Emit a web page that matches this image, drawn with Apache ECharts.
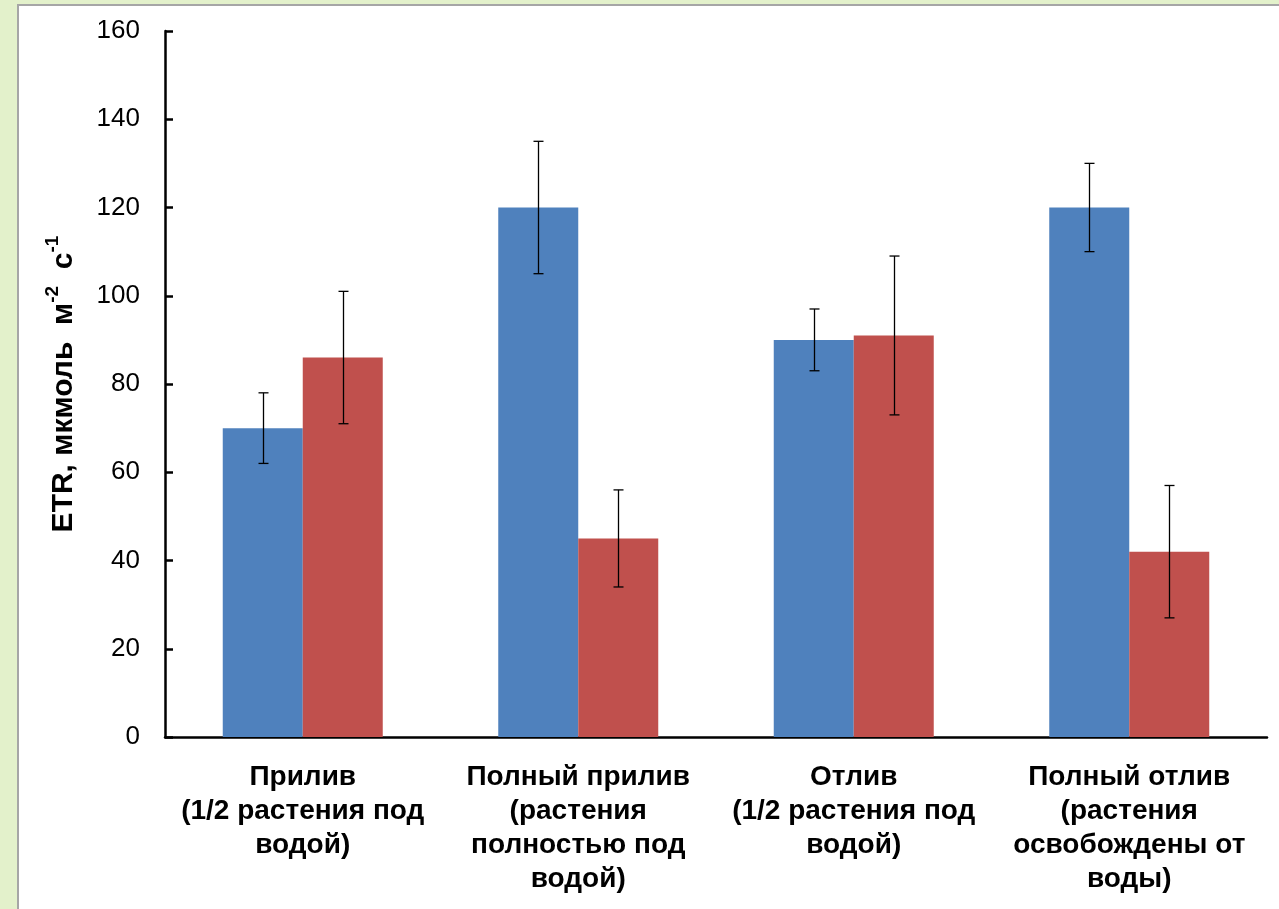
<!DOCTYPE html>
<html>
<head>
<meta charset="utf-8">
<script src="https://cdn.jsdelivr.net/npm/echarts@6/dist/echarts.min.js"></script>
<style>
  html, body { margin: 0; padding: 0; width: 1279px; height: 909px; overflow: hidden; background: #e3f1cb; }
  #frame { position: absolute; left: 17px; top: 4px; width: 1270px; height: 915px; background: #fff; border-left: 2px solid #a6a6a6; border-top: 2px solid #a6a6a6; }
  #chart { position: absolute; left: 0; top: 0; width: 1279px; height: 909px; }
</style>
</head>
<body>
<div id="frame"></div>
<div id="chart"></div>
<script>
// ─── данные ─────────────────────────────
const CATEGORIES = [
  "Прилив\n(1/2 растения под\nводой)",
  "Полный прилив\n(растения\nполностью под\nводой)",
  "Отлив\n(1/2 растения под\nводой)",
  "Полный отлив\n(растения\nосвобождены от\nводы)"
];
const BLUE_VALUES = [70, 120, 90, 120];
const BLUE_ERRORS = [8, 15, 7, 10];
const RED_VALUES = [86, 45, 91, 42];
const RED_ERRORS = [15, 11, 18, 15];
const Y_TICKS = { min: 0, max: 160, interval: 20 };

const BAR_W = 80;
const FONT = "'Liberation Sans', Arial, sans-serif";

// планки погрешностей (смещение -1 = левый столбец, +1 = правый)
const errorSeries = (values, errors, side) => ({
  type: "custom",
  z: 10,
  silent: true,
  data: values.map((v, i) => [i, v - errors[i], v + errors[i]]),
  renderItem: (params, api) => {
    const dx = side * BAR_W / 2;
    const lo = api.coord([api.value(0), api.value(1)]);
    const hi = api.coord([api.value(0), api.value(2)]);
    const x = Math.round(lo[0] + dx) + 0.5;
    const cap = 5;
    const style = { stroke: "#000", lineWidth: 1.3 };
    return {
      type: "group",
      children: [
        { type: "line", shape: { x1: x, y1: hi[1], x2: x, y2: lo[1] }, style },
        { type: "line", shape: { x1: x - cap, y1: hi[1], x2: x + cap, y2: hi[1] }, style },
        { type: "line", shape: { x1: x - cap, y1: lo[1], x2: x + cap, y2: lo[1] }, style }
      ]
    };
  }
});

const chart = echarts.init(document.getElementById("chart"));
chart.setOption({
  animation: false,
  backgroundColor: "transparent",
  grid: { left: 165, right: 12, top: 31, bottom: 172 },
  xAxis: {
    type: "category",
    data: CATEGORIES,
    axisLine: { lineStyle: { color: "#000", width: 2.5 } },
    axisTick: { inside: true, length: 6, lineStyle: { color: "#000", width: 2.5 } },
    axisLabel: {
      interval: 0,
      margin: 23,
      color: "#000",
      fontFamily: FONT,
      fontSize: 28,
      fontWeight: "bold",
      lineHeight: 34,
      align: "center"
    }
  },
  yAxis: {
    type: "value",
    min: Y_TICKS.min,
    max: Y_TICKS.max,
    interval: Y_TICKS.interval,
    splitLine: { show: false },
    axisLine: { show: true, lineStyle: { color: "#000", width: 2.5 } },
    axisTick: { show: true, inside: true, length: 8, lineStyle: { color: "#000", width: 2.5 } },
    axisLabel: { margin: 25, color: "#000", fontFamily: FONT, fontSize: 26 },
    name: "{b|ETR, мкмоль  м}{s|-2}{b|  с}{s|-1}",
    nameLocation: "middle",
    nameGap: 86,
    nameRotate: 90,
    nameTextStyle: {
      rich: {
        b: { fontFamily: FONT, fontSize: 30, fontWeight: "bold", color: "#000", lineHeight: 36, verticalAlign: "bottom" },
        s: { fontFamily: FONT, fontSize: 19, fontWeight: "bold", color: "#000", lineHeight: 36, verticalAlign: "top" }
      }
    }
  },
  series: [
    {
      type: "bar",
      data: BLUE_VALUES,
      barWidth: BAR_W,
      barGap: "0%",
      itemStyle: { color: "#4f81bd" }
    },
    {
      type: "bar",
      data: RED_VALUES,
      barWidth: BAR_W,
      barGap: "0%",
      itemStyle: { color: "#c0504d" }
    },
    errorSeries(BLUE_VALUES, BLUE_ERRORS, -1),
    errorSeries(RED_VALUES, RED_ERRORS, 1)
  ]
});
</script>
</body>
</html>
